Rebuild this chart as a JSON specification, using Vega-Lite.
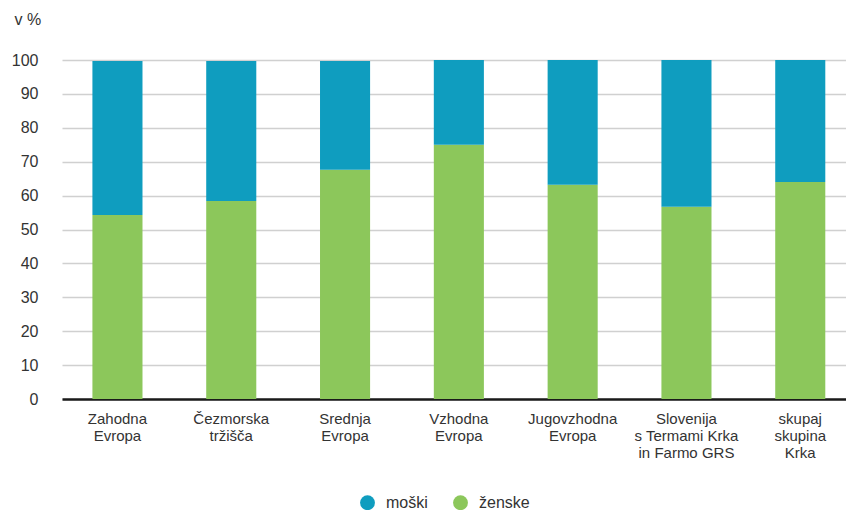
{
  "$schema": "https://vega.github.io/schema/vega-lite/v6.json",
  "width": 784,
  "height": 339,
  "autosize": {"type": "none"},
  "padding": {"left": 62, "top": 60, "right": 0, "bottom": 111},
  "background": "white",
  "config": {
    "view": {"stroke": null},
    "font": "Liberation Sans"
  },
  "data": {
    "values": [
      {"regija": "Zahodna|Evropa", "spol": "ženske", "delez": 54.3},
      {"regija": "Zahodna|Evropa", "spol": "moški", "delez": 45.4},
      {"regija": "Čezmorska|tržišča", "spol": "ženske", "delez": 58.4},
      {"regija": "Čezmorska|tržišča", "spol": "moški", "delez": 41.3},
      {"regija": "Srednja|Evropa", "spol": "ženske", "delez": 67.6},
      {"regija": "Srednja|Evropa", "spol": "moški", "delez": 32.1},
      {"regija": "Vzhodna|Evropa", "spol": "ženske", "delez": 75.0},
      {"regija": "Vzhodna|Evropa", "spol": "moški", "delez": 25.0},
      {"regija": "Jugovzhodna|Evropa", "spol": "ženske", "delez": 63.2},
      {"regija": "Jugovzhodna|Evropa", "spol": "moški", "delez": 36.8},
      {"regija": "Slovenija|s Termami Krka|in Farmo GRS", "spol": "ženske", "delez": 56.7},
      {"regija": "Slovenija|s Termami Krka|in Farmo GRS", "spol": "moški", "delez": 43.3},
      {"regija": "skupaj|skupina|Krka", "spol": "ženske", "delez": 64.0},
      {"regija": "skupaj|skupina|Krka", "spol": "moški", "delez": 36.0}
    ]
  },
  "mark": {"type": "bar"},
  "encoding": {
    "x": {
      "field": "regija",
      "type": "nominal",
      "sort": null,
      "scale": {"paddingInner": 0.56, "paddingOuter": 0.2246, "align": 0.595},
      "axis": {
        "title": null,
        "labelAngle": 0,
        "labelExpr": "split(datum.value, '|')",
        "labelFont": "Liberation Sans",
        "labelFontSize": 15,
        "labelColor": "#333333",
        "labelLineHeight": 17,
        "labelPadding": 12,
        "labelBaseline": "top",
        "ticks": false,
        "domainColor": "#1a1a1a",
        "domainWidth": 2.5,
        "grid": false
      }
    },
    "y": {
      "field": "delez",
      "type": "quantitative",
      "stack": "zero",
      "scale": {"domain": [0, 100], "nice": false},
      "axis": {
        "values": [0, 10, 20, 30, 40, 50, 60, 70, 80, 90, 100],
        "title": "v %",
        "titleAngle": 0,
        "titleAlign": "left",
        "titleBaseline": "middle",
        "titleX": -48,
        "titleY": -41,
        "titleFontSize": 16,
        "titleFontWeight": "normal",
        "titleColor": "#333333",
        "labelFontSize": 16,
        "labelColor": "#333333",
        "labelPadding": 24,
        "ticks": false,
        "domain": false,
        "gridColor": "#d0d0d0",
        "gridWidth": 1.5
      }
    },
    "color": {
      "field": "spol",
      "type": "nominal",
      "scale": {"domain": ["moški", "ženske"], "range": ["#0f9dbf", "#8cc75b"]},
      "legend": {
        "title": null,
        "orient": "none",
        "direction": "horizontal",
        "legendX": 297,
        "legendY": 434,
        "symbolType": "circle",
        "symbolSize": 220,
        "symbolOpacity": 1,
        "labelFontSize": 16,
        "labelColor": "#333333",
        "labelOffset": 10,
        "columnPadding": 24
      }
    },
    "order": {"field": "spol", "sort": "descending"}
  }
}
